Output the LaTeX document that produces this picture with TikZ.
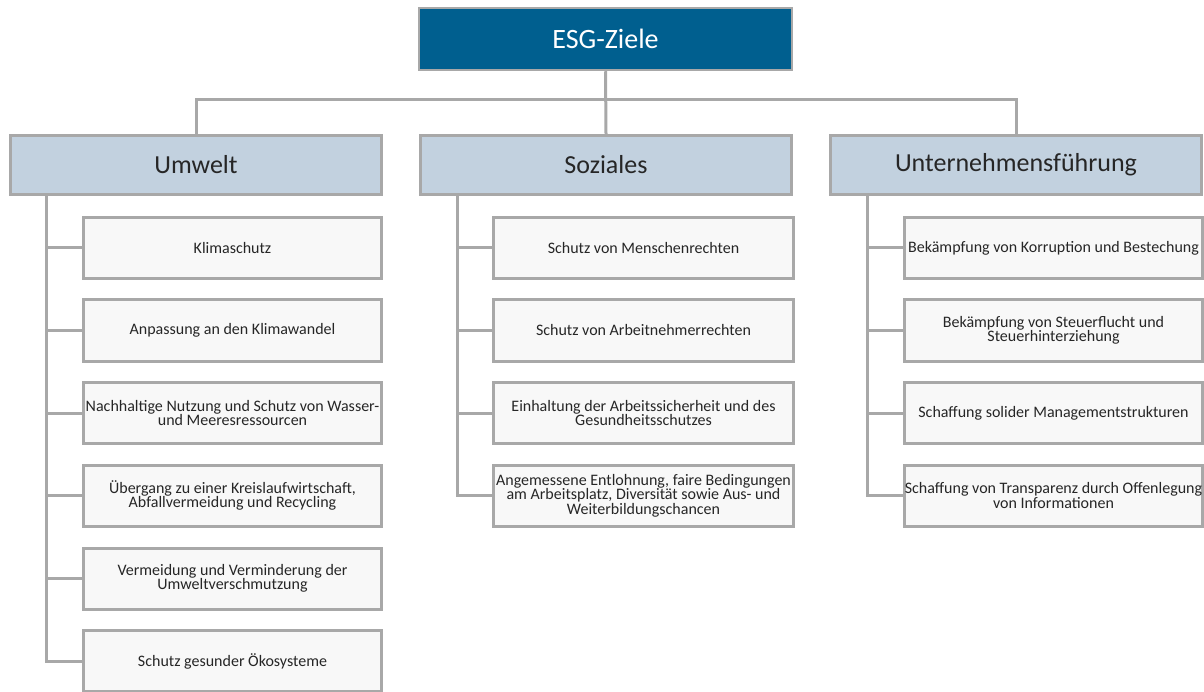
\documentclass[tikz,border=0pt]{standalone}
\usepackage{fontspec}
\setmainfont{Carlito}
\definecolor{topblue}{HTML}{005F8F}
\definecolor{catblue}{HTML}{C2D1DF}
\definecolor{childgray}{HTML}{F8F8F8}
\definecolor{linegray}{HTML}{A8A8A8}
\begin{document}
\begin{tikzpicture}[x=1pt,y=-1pt,
  topbox/.style={draw=linegray,line width=2.5pt,fill=topblue,text=white,inner sep=0pt,
    minimum width=373pt,minimum height=62pt,font=\fontsize{28}{30}\selectfont},
  catbox/.style={draw=linegray,line width=3pt,fill=catblue,text=black!85,inner sep=0pt,
    minimum width=371pt,minimum height=59pt,font=\fontsize{26}{28}\selectfont},
  childbox/.style={draw=linegray,line width=3pt,fill=childgray,text=black!85,inner sep=0pt,
    minimum width=298pt,minimum height=61pt,align=center,font=\fontsize{16}{14.5}\selectfont},
  conn/.style={draw=linegray,line width=3pt}]
\useasboundingbox (0,0) rectangle (1204,692);
\node[topbox] (top) at (605.5,39) {ESG-Ziele};
\node[catbox] (u) at (196,165) {Umwelt};
\node[catbox] (s) at (606,165) {Soziales};
\node[catbox] (g) at (1016,165) {Unternehmensführung};
% connectors top
\coordinate (hb) at (605.5,100);
\draw[conn] (top.south) -- (s.north);
\draw[conn] (u.north) |- (hb) -| (g.north);
% Umwelt children
\node[childbox] (u1) at (232.5,248) {Klimaschutz};
\node[childbox] (u2) at (232.5,330.5) {Anpassung an den Klimawandel};
\node[childbox] (u3) at (232.5,413) {Nachhaltige Nutzung und Schutz von Wasser-\\und Meeresressourcen};
\node[childbox] (u4) at (232.5,495.5) {Übergang zu einer Kreislaufwirtschaft,\\Abfallvermeidung und Recycling};
\node[childbox] (u5) at (232.5,578.5) {Vermeidung und Verminderung der\\Umweltverschmutzung};
\node[childbox] (u6) at (232.5,661) {Schutz gesunder Ökosysteme};
\coordinate (ua) at (46,196);
\draw[conn] (ua) |- (u6.west);
\foreach \n in {u1,u2,u3,u4,u5}{\draw[conn] (ua |- \n.west) -- (\n.west);}
% Soziales children
\node[childbox,minimum width=300pt] (s1) at (643.5,248) {Schutz von Menschenrechten};
\node[childbox,minimum width=300pt] (s2) at (643.5,330.5) {Schutz von Arbeitnehmerrechten};
\node[childbox,minimum width=300pt] (s3) at (643.5,413) {Einhaltung der Arbeitssicherheit und des\\Gesundheitsschutzes};
\node[childbox,minimum width=300pt] (s4) at (643.5,495.5) {Angemessene Entlohnung, faire Bedingungen\\am Arbeitsplatz, Diversität sowie Aus- und\\Weiterbildungschancen};
\coordinate (sa) at (457,196);
\draw[conn] (sa) |- (s4.west);
\foreach \n in {s1,s2,s3}{\draw[conn] (sa |- \n.west) -- (\n.west);}
% Unternehmensfuehrung children
\node[childbox] (g1) at (1053.5,248) {Bekämpfung von Korruption und Bestechung};
\node[childbox] (g2) at (1053.5,330.5) {Bekämpfung von Steuerflucht und\\Steuerhinterziehung};
\node[childbox] (g3) at (1053.5,413) {Schaffung solider Managementstrukturen};
\node[childbox] (g4) at (1053.5,495.5) {Schaffung von Transparenz durch Offenlegung\\von Informationen};
\coordinate (ga) at (867,196);
\draw[conn] (ga) |- (g4.west);
\foreach \n in {g1,g2,g3}{\draw[conn] (ga |- \n.west) -- (\n.west);}
\end{tikzpicture}
\end{document}
